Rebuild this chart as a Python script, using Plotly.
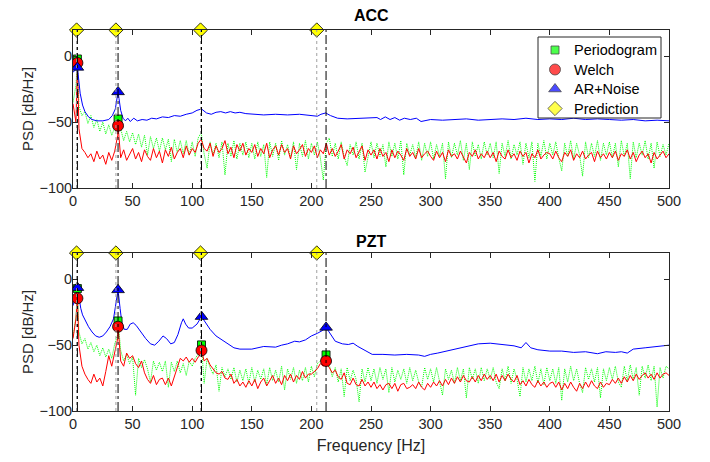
import numpy as np
import plotly.graph_objects as go
from plotly.subplots import make_subplots

# frequency grid of the periodogram / Welch estimates [Hz]
freq_grid = np.arange(0, 500.1, 2.5)

# ---------------- ACC ----------------
acc_periodogram = [
    -35, -22, -38, -45, -42, -51, -45, -54, -48, -57, -50, -59, -52, -60, -54, -53, -55, -64, -57, -65,
    -58, -67, -59, -69, -60, -75, -61, -70, -62, -72, -62, -71, -63, -80, -63, -73, -64, -74, -64, -75,
    -65, -76, -62, -58, -74, -85, -65, -75, -66, -77, -65, -90, -66, -76, -64, -78, -66, -75, -65, -77,
    -66, -78, -65, -76, -67, -92, -65, -76, -66, -79, -64, -75, -67, -77, -65, -86, -66, -76, -64, -78,
    -66, -75, -65, -77, -94, -66, -62, -76, -66, -78, -65, -76, -83, -67, -75, -65, -78, -66, -88, -75,
    -65, -77, -66, -76, -67, -84, -65, -76, -66, -78, -64, -90, -66, -75, -67, -77, -65, -79, -66, -76,
    -65, -78, -67, -76, -66, -93, -65, -77, -66, -75, -64, -79, -66, -86, -65, -76, -67, -78, -65, -75,
    -66, -77, -65, -89, -66, -76, -64, -78, -67, -75, -65, -82, -66, -77, -65, -95, -66, -76, -64, -78,
    -66, -75, -65, -77, -87, -66, -76, -64, -78, -66, -75, -91, -65, -77, -66, -76, -64, -79, -66, -75,
    -65, -77, -66, -84, -64, -76, -66, -93, -65, -77, -66, -75, -64, -78, -66, -85, -65, -76, -67, -75,
    -66]
acc_welch = [
    -36, -50, -55, -70, -73, -77, -74, -80, -72, -78, -75, -82, -73, -79, -72, -60, -77, -71, -79, -74,
    -70, -78, -73, -80, -71, -76, -79, -70, -77, -72, -81, -71, -76, -69, -78, -73, -70, -77, -68, -75,
    -70, -73, -66, -63, -70, -72, -66, -76, -68, -73, -70, -64, -74, -69, -77, -67, -72, -66, -75, -70,
    -73, -67, -76, -70, -74, -66, -77, -71, -68, -75, -67, -73, -70, -78, -68, -74, -71, -67, -76, -70,
    -73, -68, -77, -71, -74, -66, -75, -70, -76, -72, -67, -78, -71, -74, -69, -77, -72, -68, -79, -71,
    -75, -71, -78, -70, -76, -73, -80, -71, -77, -72, -75, -79, -70, -76, -73, -78, -70, -77, -74, -72,
    -76, -79, -72, -77, -73, -80, -71, -76, -74, -78, -72, -77, -81, -73, -76, -71, -78, -74, -77, -72,
    -77, -73, -80, -72, -76, -78, -71, -77, -74, -79, -72, -76, -73, -81, -74, -77, -71, -78, -75, -73,
    -74, -78, -72, -77, -80, -73, -76, -71, -79, -74, -77, -72, -78, -75, -73, -80, -72, -77, -74, -78,
    -73, -77, -72, -79, -74, -76, -71, -78, -73, -80, -75, -72, -77, -74, -81, -73, -78, -75, -72, -77,
    -74]
acc_ar_freq = [0, 1.5, 2.5, 3.7, 5, 6, 8, 10, 13, 16, 20, 25, 30, 33, 35.5, 37, 37.8, 38.6, 40, 42,
               44, 46, 48, 51, 54, 58, 62, 66, 70, 75, 80, 85, 90, 95, 100, 104, 107.8, 112, 116, 120,
               124, 128, 132, 136, 140, 145, 150, 160, 170, 180, 190, 200, 205, 208, 212, 216, 222, 230, 240, 250,
               255, 258, 262, 266, 270, 274, 278, 283, 288, 292, 296, 300, 310, 320, 330, 340, 350, 360, 370, 380,
               390, 400, 410, 420, 430, 440, 450, 460, 470, 480, 490, 500]
acc_ar = [-12, -11, -10, -8.4, -18, -28, -37, -42, -46, -48, -49, -49, -48, -45, -40, -32, -27, -32, -41, -47,
          -49, -47, -49.5, -47, -49, -48, -48.5, -47, -47.5, -46, -46.5, -45, -45.5, -44, -43, -41, -40, -43, -44, -42.5,
          -42, -43, -42, -43, -42.5, -43.5, -44, -44.5, -44, -44.5, -44, -45, -45.5, -44, -43, -45, -47, -47.5, -47, -47,
          -46.5, -48, -46, -48, -46.5, -48.5, -47, -48, -47, -49.5, -48.5, -48, -48.5, -48, -47.5, -48.5, -48, -47.5, -48, -47,
          -48, -47.5, -48, -47, -48, -47.5, -48, -48.5, -48, -49, -48.5, -49]
acc_mode_freq = [3.7, 37.8, 107.8, 212.3]
acc_peak_freq = [3.7, 37.8]
acc_peak_periodogram = [-2, -47.6]
acc_peak_welch = [-5, -52.7]
acc_peak_ar = [-8.4, -27]

# ---------------- PZT ----------------
pzt_periodogram = [
    -44, -28, -40, -49, -45, -53, -48, -55, -50, -58, -52, -59, -53, -60, -49, -42, -54, -62, -57, -64,
    -59, -88, -60, -67, -61, -68, -78, -62, -69, -63, -70, -62, -82, -63, -70, -62, -71, -64, -73, -62,
    -66, -60, -57, -54, -79, -60, -67, -72, -65, -85, -67, -74, -68, -76, -67, -78, -69, -77, -68, -79,
    -67, -78, -69, -76, -68, -80, -67, -77, -69, -78, -66, -84, -68, -76, -67, -79, -69, -77, -67, -78,
    -66, -74, -64, -62, -61, -63, -65, -74, -67, -78, -68, -89, -67, -77, -69, -76, -93, -68, -78, -67,
    -77, -68, -79, -67, -76, -68, -86, -67, -78, -69, -76, -68, -79, -67, -77, -69, -78, -82, -67, -76,
    -68, -78, -67, -77, -88, -68, -76, -69, -79, -67, -77, -68, -90, -67, -76, -68, -79, -67, -77, -68,
    -76, -67, -78, -83, -68, -77, -66, -79, -68, -76, -89, -67, -78, -68, -77, -66, -79, -68, -80, -67,
    -77, -68, -79, -67, -92, -68, -78, -66, -77, -68, -79, -86, -67, -76, -68, -78, -67, -90, -68, -77,
    -67, -76, -66, -78, -82, -66, -77, -65, -76, -67, -88, -66, -75, -65, -77, -66, -97, -67, -75, -66,
    -68]
pzt_welch = [
    -45, -30, -50, -66, -72, -76, -79, -72, -78, -75, -81, -70, -58, -66, -55, -45, -62, -66, -56, -60,
    -58, -64, -67, -62, -71, -76, -79, -73, -80, -76, -75, -80, -75, -81, -74, -66, -60, -62, -59, -63,
    -60, -63, -59, -57, -62, -60, -65, -68, -71, -72, -70, -75, -76, -72, -79, -76, -81, -78, -82, -77,
    -81, -76, -83, -78, -75, -81, -77, -73, -79, -75, -80, -73, -77, -72, -78, -73, -76, -70, -75, -72,
    -72, -70, -68, -64, -66, -64, -67, -71, -69, -74, -76, -71, -79, -80, -75, -80, -81, -76, -81, -78,
    -82, -78, -83, -80, -84, -80, -79, -83, -79, -85, -80, -79, -83, -82, -80, -83, -78, -82, -84, -79,
    -82, -78, -81, -77, -81, -76, -80, -75, -79, -74, -78, -73, -77, -78, -74, -78, -73, -77, -72, -76,
    -73, -77, -72, -78, -73, -77, -72, -76, -78, -73, -80, -77, -81, -76, -80, -82, -77, -81, -78, -82,
    -79, -78, -82, -78, -84, -79, -83, -78, -82, -85, -79, -83, -78, -82, -77, -81, -83, -78, -82, -79,
    -80, -76, -79, -75, -79, -74, -78, -73, -77, -72, -76, -73, -71, -75, -72, -76, -71, -75, -72, -71,
    -73]
pzt_ar_freq = [0, 1.5, 2.5, 3.7, 5, 6.5, 8, 10, 13, 16, 19, 22, 25, 28, 31, 34, 36, 37.8, 39.5, 41,
               43, 45.5, 48, 50.5, 53, 57, 61, 65, 68.5, 72, 75.5, 78.5, 82, 85, 88, 91, 92.5, 94.5, 97, 100,
               104, 107.8, 111, 115, 120, 125, 130, 135, 140, 150, 160, 170, 175, 180, 186, 190, 195, 200, 205, 209,
               212.3, 216, 220, 226, 231, 235, 239, 245, 251, 260, 270, 280, 290, 295, 300, 306, 315, 325, 334, 340,
               350, 360, 370, 376, 380, 384, 390, 400, 410, 420, 430, 440, 447, 455, 460, 465, 470, 480, 490, 500]
pzt_ar = [-20, -16, -12, -6.3, -14, -22, -27, -31, -36, -40, -43, -44, -43, -40, -36, -30, -20, -8, -22, -33,
          -38, -38, -34, -33, -35, -40, -45, -49, -50, -47, -43, -45, -49, -48, -42, -33, -30, -34, -37, -37,
          -34, -28.3, -33, -38, -43, -46, -49, -52, -53, -53, -51, -51.5, -50, -49, -47, -47.5, -46, -43, -41, -39,
          -36.5, -42, -47, -49, -49.5, -48.5, -51, -54, -57, -57, -57.5, -57, -57.5, -58.5, -57, -56, -54, -52, -50, -49,
          -48.5, -49.5, -50.5, -52, -48, -52, -53.5, -54.5, -54.5, -55.5, -55, -56.5, -55, -55.5, -55, -56, -53, -52, -51, -50]
pzt_mode_freq = [3.7, 37.8, 107.8, 212.3]
pzt_peak_freq = [3.7, 37.8, 107.8, 212.3]
pzt_peak_periodogram = [-7, -31.6, -49.8, -57.4]
pzt_peak_welch = [-14.4, -36, -54, -62]
pzt_peak_ar = [-6.3, -8, -28.3, -36.5]

# predicted natural frequencies (same for both sensors)
pred_freq = [3.0, 36.0, 107.0, 204.5]

legend_names = ["Periodogram", "Welch", "AR+Noise", "Prediction"]
legend_symbols = ["square", "circle", "triangle-up", "diamond"]
legend_colors = ["#00ff00", "#ff0000", "#0000ff", "#ffff00"]
legend_sizes = [8, 11, 11, 11]

y_range = [-100, 20]
font_family = "Liberation Sans, Arial, sans-serif"
axis_color = "#262626"

for arr in (acc_periodogram, acc_welch, pzt_periodogram, pzt_welch):
    assert len(arr) == len(freq_grid), len(arr)


def with_peaks(grid_f, grid_v, pk_f, pk_v):
    # insert the identified peak values into the sampled spectrum
    f = np.concatenate([grid_f, pk_f])
    v = np.concatenate([grid_v, pk_v])
    order = np.argsort(f, kind="stable")
    return f[order], v[order]


fig = make_subplots(rows=2, cols=1)

panels = [
    (1, acc_periodogram, acc_welch, acc_ar_freq, acc_ar, acc_mode_freq,
     acc_peak_freq, acc_peak_periodogram, acc_peak_welch, acc_peak_ar),
    (2, pzt_periodogram, pzt_welch, pzt_ar_freq, pzt_ar, pzt_mode_freq,
     pzt_peak_freq, pzt_peak_periodogram, pzt_peak_welch, pzt_peak_ar),
]

for row, per, wel, ar_f, ar_v, mode_f, pk_f, pk_per, pk_wel, pk_ar in panels:
    f, v = with_peaks(freq_grid, per, pk_f, pk_per)
    fig.add_trace(go.Scatter(x=f, y=v, mode="lines", hoverinfo="skip",
                             line=dict(color="#00ff00", width=1, dash="1px,1px")), row=row, col=1)
    f, v = with_peaks(freq_grid, wel, pk_f, pk_wel)
    fig.add_trace(go.Scatter(x=f, y=v, mode="lines", hoverinfo="skip",
                             line=dict(color="#ff0000", width=1)), row=row, col=1)
    fig.add_trace(go.Scatter(x=ar_f, y=ar_v, mode="lines", hoverinfo="skip",
                             line=dict(color="#0000ff", width=1)), row=row, col=1)

    # identified peaks
    for yv, k in ((pk_per, 0), (pk_wel, 1), (pk_ar, 2)):
        fig.add_trace(go.Scatter(x=pk_f, y=yv, mode="markers", name=legend_names[k],
                                 marker=dict(symbol=legend_symbols[k], size=legend_sizes[k],
                                             color=legend_colors[k], line=dict(color="black", width=0.8))),
                      row=row, col=1)
    fig.add_trace(go.Scatter(x=pred_freq, y=[y_range[1]] * len(pred_freq), mode="markers",
                             name=legend_names[3], cliponaxis=False,
                             marker=dict(symbol="diamond", size=11, color="#ffff00",
                                         line=dict(color="black", width=0.8))), row=row, col=1)

    for fp in pred_freq:
        fig.add_vline(x=fp, line_dash="dot", line_color="#a0a0a0", line_width=1, row=row, col=1)
    for fm in mode_f:
        fig.add_vline(x=fm, line_dash="dashdot", line_color="black", line_width=1, row=row, col=1)

# hand made legend box (MATLAB style), on a pixel-like helper axis covering the plotting area
leg_y = [50, 69.5, 89, 108.5]
fig.add_trace(go.Scatter(x=[555] * 4, y=leg_y, mode="markers", xaxis="x3", yaxis="y3",
                         hoverinfo="skip", cliponaxis=False,
                         marker=dict(symbol=legend_symbols, size=legend_sizes, color=legend_colors,
                                     line=dict(color="black", width=0.8))))
fig.add_shape(type="rect", xref="x3", yref="y3", x0=538, x1=661, y0=37, y1=118,
              line=dict(color=axis_color, width=1), fillcolor="white", layer="below")

axis_common = dict(showgrid=False, zeroline=False, showline=True, linecolor=axis_color, linewidth=1,
                   mirror="ticks", ticks="inside", ticklen=5, tickcolor=axis_color, automargin=False,
                   tickfont=dict(size=14.5, color=axis_color, family=font_family))
fig.update_xaxes(range=[0, 500], tickvals=list(range(0, 501, 50)), **axis_common)
fig.update_yaxes(range=y_range, tickvals=[-100, -50, 0], ticklabelstandoff=-3,
                 title=dict(text="PSD [dB/Hz]", font=dict(size=15, color=axis_color, family=font_family),
                            standoff=2),
                 **axis_common)
fig.update_xaxes(title=dict(text="Frequency [Hz]", font=dict(size=16, color=axis_color, family=font_family),
                            standoff=8), row=2, col=1)

annotations = [
    dict(text="<b>ACC</b>", x=0.5, y=1.039, xref="paper", yref="paper", showarrow=False,
         font=dict(size=16, color="black", family=font_family), yanchor="middle"),
    dict(text="<b>PZT</b>", x=0.5, y=0.4436, xref="paper", yref="paper", showarrow=False,
         font=dict(size=16, color="black", family=font_family), yanchor="middle"),
]
for name, yy in zip(legend_names, leg_y):
    annotations.append(dict(text=name, x=572, y=yy, xref="x3", yref="y3", xanchor="left", yanchor="middle",
                            showarrow=False, font=dict(size=14.5, color="black", family=font_family)))

# the page body adds an 8 px margin, so the figure is made 8 px smaller and the margins shifted
fig.update_layout(
    width=702, height=454,
    margin=dict(l=65, r=41, t=22, b=51),
    paper_bgcolor="white", plot_bgcolor="rgba(0,0,0,0)",
    font=dict(family=font_family, size=15, color=axis_color),
    showlegend=False,
    xaxis=dict(domain=[0, 1]), xaxis2=dict(domain=[0, 1]),
    yaxis=dict(domain=[0.5853, 1.0]), yaxis2=dict(domain=[0.0, 0.4147]),
    xaxis3=dict(domain=[0, 1], range=[73, 669], visible=False, anchor="y3", fixedrange=True),
    yaxis3=dict(domain=[0, 1], range=[411, 30], visible=False, anchor="x3", fixedrange=True),
    annotations=annotations,
)

fig.write_html("out.html")
